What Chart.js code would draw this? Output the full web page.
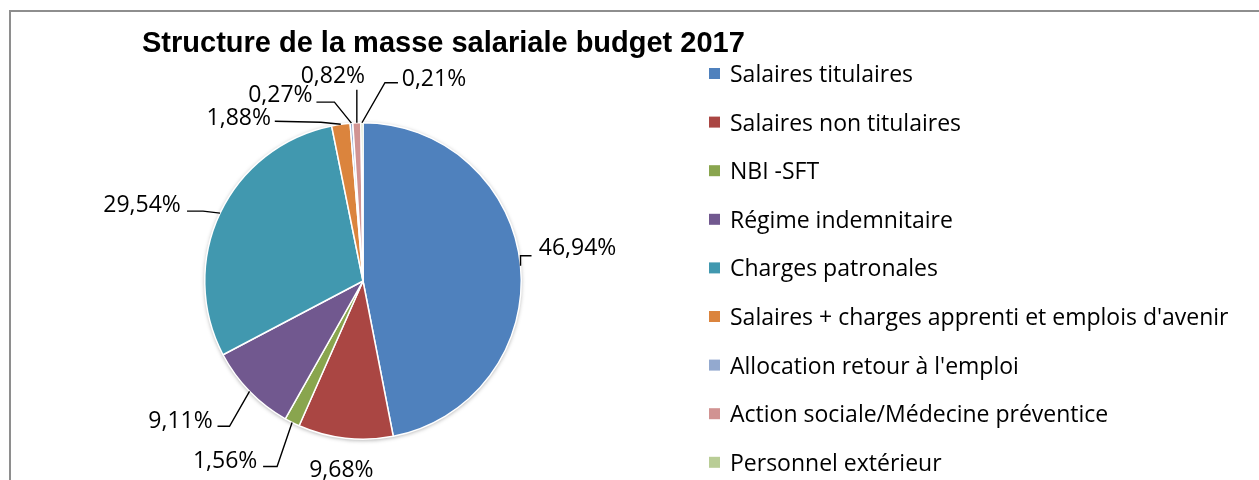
<!DOCTYPE html>
<html>
<head>
<meta charset="utf-8">
<script src="https://cdn.jsdelivr.net/npm/chart.js@4"></script>
<style>
  html, body { margin: 0; padding: 0; background: #fff; }
  #wrap { width: 1259px; height: 480px; }
</style>
</head>
<body>
<div id="wrap"><canvas id="pieChart" width="1259" height="480"></canvas></div>
<script>
const title = "Structure de la masse salariale budget 2017";
const categories = [
    "Salaires titulaires",
    "Salaires non titulaires",
    "NBI -SFT",
    "Régime indemnitaire",
    "Charges patronales",
    "Salaires + charges apprenti et emplois d'avenir",
    "Allocation retour à l'emploi",
    "Action sociale/Médecine préventice",
    "Personnel extérieur"
];
const shares = [46.94, 9.68, 1.56, 9.11, 29.54, 1.88, 0.27, 0.82, 0.21];

const colors = ["#4F81BD", "#AA4643", "#89A54E", "#71588F", "#4198AF", "#DB843D", "#93A9CF", "#D19392", "#B9CD96"];

// label placement relative to the middle of each slice's outer edge
const labelOffsets = [[57, -19], [-4, 30], [-67, 37], [-69, 28], [-78, -10], [-102, -8], [-71, -30], [-24, -48], [72, -45]];
const leaderBends = [
    [[0, -10], [11, -10]],
    [],
    [[-15, 44], [-29, 44]],
    [[-20, 35], [-32, 35]],
    [[-17, -2], [-33, -2]],
    [[-20, -2], [-66, -3]],
    [[-17, -21], [-35, -21]],
    [[0, -33]],
    [[23, -40], [36, -40]]
];

const textFont = "23px 'Open Sans'";

function fmtPct(v) {
    return v.toFixed(2).replace(".", ",") + "%";
}

// frame, title and the pie shadow
const decorPlugin = {
    id: "decor",
    beforeDatasetsDraw(chart) {
        const ctx = chart.ctx;
        ctx.save();
        ctx.strokeStyle = "#8e8e8e";
        ctx.lineWidth = 2;
        ctx.strokeRect(10, 11, 1400, 600);

        ctx.fillStyle = "#000";
        ctx.font = "bold 29px 'Liberation Sans', Arial, sans-serif";
        ctx.textAlign = "left";
        ctx.textBaseline = "alphabetic";
        ctx.fillText(title, 142, 51.5);

        const arc = chart.getDatasetMeta(0).data[0];
        if (arc) {
            const p = arc.getProps(["x", "y", "outerRadius"], true);
            ctx.shadowColor = "rgba(0,0,0,0.35)";
            ctx.shadowBlur = 4;
            ctx.shadowOffsetY = 1;
            ctx.fillStyle = "#fff";
            ctx.beginPath();
            ctx.arc(p.x, p.y, p.outerRadius, 0, Math.PI * 2);
            ctx.fill();
        }
        ctx.restore();
    }
};

// percentage labels with leader lines
const labelPlugin = {
    id: "outLabels",
    afterDatasetsDraw(chart) {
        const ctx = chart.ctx;
        const meta = chart.getDatasetMeta(0);
        ctx.save();
        ctx.font = textFont;
        ctx.fillStyle = "#000";
        ctx.strokeStyle = "#000";
        ctx.lineWidth = 1.4;
        ctx.textAlign = "center";
        ctx.textBaseline = "alphabetic";
        meta.data.forEach(function (arc, i) {
            const p = arc.getProps(["x", "y", "startAngle", "endAngle", "outerRadius"], true);
            const mid = (p.startAngle + p.endAngle) / 2;
            const ex = p.x + Math.cos(mid) * p.outerRadius;
            const ey = p.y + Math.sin(mid) * p.outerRadius;
            const bends = leaderBends[i];
            if (bends.length) {
                ctx.beginPath();
                ctx.moveTo(ex, ey);
                bends.forEach(function (b) { ctx.lineTo(ex + b[0], ey + b[1]); });
                ctx.stroke();
            }
            const off = labelOffsets[i];
            ctx.fillText(fmtPct(shares[i]), ex + off[0], ey + off[1] + 8.5);
        });
        ctx.restore();
    }
};

// legend on the right
const legendPlugin = {
    id: "sideLegend",
    afterDraw(chart) {
        const ctx = chart.ctx;
        ctx.save();
        ctx.font = textFont;
        ctx.textAlign = "left";
        ctx.textBaseline = "alphabetic";
        chart.data.labels.forEach(function (label, i) {
            const cy = 73.5 + i * 48.6;
            ctx.fillStyle = chart.data.datasets[0].backgroundColor[i];
            ctx.fillRect(709, cy - 5.5, 11, 11);
            ctx.fillStyle = "#000";
            ctx.fillText(label, 730, cy + 8.5);
        });
        ctx.restore();
    }
};

new Chart(document.getElementById("pieChart"), {
    type: "pie",
    data: {
        labels: categories,
        datasets: [{
            data: shares,
            backgroundColor: colors,
            borderColor: "#ffffff",
            borderWidth: 1.5
        }]
    },
    options: {
        responsive: false,
        animation: false,
        layout: {
            padding: { top: 122, bottom: 40, left: 204, right: 737 }
        },
        plugins: {
            legend: { display: false },
            title: { display: false },
            tooltip: { enabled: false }
        }
    },
    plugins: [decorPlugin, labelPlugin, legendPlugin]
});
</script>
</body>
</html>
